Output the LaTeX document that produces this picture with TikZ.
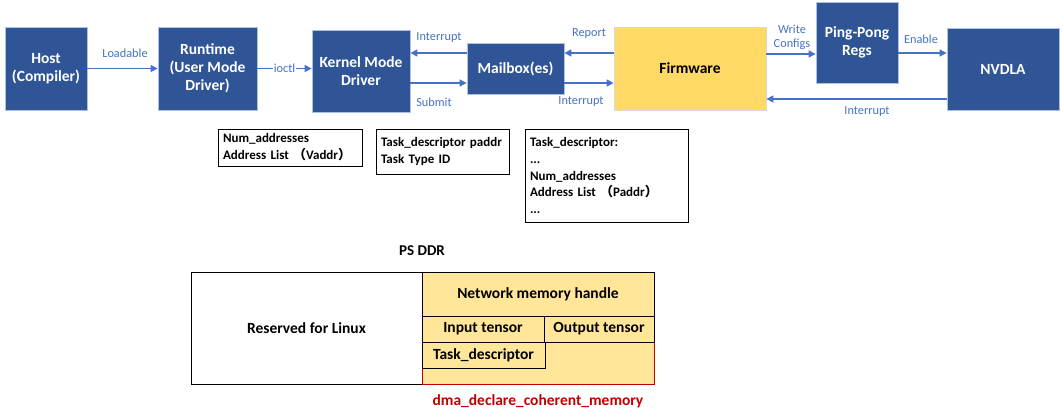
\documentclass[tikz,border=0pt]{standalone}
\usepackage{fontspec}
\setmainfont{Carlito}
\newfontfamily\cjk{Noto Sans CJK SC}
\usepackage{tikz}
\usetikzlibrary{arrows.meta}
\definecolor{boxblue}{HTML}{2F5597}
\definecolor{arrblue}{HTML}{4472C4}
\definecolor{fwyellow}{HTML}{FFD966}
\definecolor{memyellow}{HTML}{FFE699}
\definecolor{dmared}{HTML}{C00000}

\begin{document}
\begin{tikzpicture}[x=1pt,y=-1pt,
        blk/.style={draw=arrblue!45, line width=0.8pt, fill=boxblue, text=white, align=center,
            inner sep=0pt, font=\bfseries\fontsize{15.5}{18}\selectfont},
        arr/.style={draw=arrblue, line width=1.5pt, -{Triangle[length=7pt,width=7pt]}},
        lbl/.style={text=arrblue, inner sep=1pt, align=center, font=\fontsize{12.3}{14}\selectfont},
        info/.style={draw=black, line width=0.7pt, align=left, inner xsep=5pt,
            font=\bfseries\fontsize{13}{16.8}\selectfont},
        cell/.style={draw=black, line width=0.7pt, fill=memyellow, inner sep=0pt,
            font=\bfseries\fontsize{15.5}{17}\selectfont}]
        \useasboundingbox (0,0) rectangle (1063,419);

        % top row
        \node[blk, minimum width=82, minimum height=83] (host) at (46,68.5) {Host\\(Compiler)};
        \node[blk, minimum width=99, minimum height=83] (runtime) at (207.5,68.5) {Runtime\\(User Mode\\Driver)};
        \node[blk, minimum width=98, minimum height=82] (kmd) at (361,71) {Kernel Mode\\Driver};
        \node[blk, minimum width=97, minimum height=51] (mailbox) at (515.5,68.5) {Mailbox(es)};
        \node[blk, minimum width=152, minimum height=83, fill=fwyellow, draw=black!15, text=black] (firmware) at (690,68.5) {Firmware};
        \node[blk, minimum width=82, minimum height=81] (pingpong) at (857,42.5) {Ping-Pong\\Regs};
        \node[blk, minimum width=112, minimum height=82] (nvdla) at (1003,69) {NVDLA};

        \draw[arr] (host.east) -- (runtime.west);
        \node[lbl] (loadable) at (125,53) {Loadable};
        \draw[arr] (runtime.east) -- (runtime.east -| kmd.west) node[lbl, midway, fill=white] (ioctl) {ioctl};
        \draw[arr] ([yshift=15.5pt]mailbox.west) -- ([yshift=18pt]kmd.east);
        \node[lbl] (intkmd) at (439,38) {Interrupt};
        \draw[arr] ([yshift=-12pt]kmd.east) -- ([yshift=-14.5pt]mailbox.west);
        \node[lbl] (submit) at (434,102) {Submit};
        \draw[arr] ([yshift=15.5pt]firmware.west) -- ([yshift=15.5pt]mailbox.east);
        \node[lbl] (report) at (589,34) {Report};
        \draw[arr] ([yshift=-14.5pt]mailbox.east) -- ([yshift=-14.5pt]firmware.west);
        \node[lbl] (intfw) at (581,102) {Interrupt};
        \draw[arr] ([yshift=14.5pt]firmware.east) -- ([yshift=-11.5pt]pingpong.west);
        \node[lbl] (writecfg) at (792,37) {Write\\Configs};
        \draw[arr] ([yshift=-10.5pt]pingpong.east) -- ([yshift=16pt]nvdla.west);
        \node[lbl] (enable) at (921,39) {Enable};
        \draw[arr] ([yshift=-30pt]nvdla.west) -- ([yshift=-30.5pt]firmware.east);
        \node[lbl] (intnv) at (867,112) {Interrupt};

        % info boxes
        \node[info, minimum width=144, minimum height=37, text width=134] (umdinfo) at (290,147.5)
            {Num\_addresses\\Address List {\cjk （}Vaddr{\cjk ）}};
        \node[info, minimum width=133, minimum height=45, text width=123] (kmdinfo) at (442.5,151.5)
            {Task\_descriptor paddr\\Task Type ID};
        \node[info, minimum width=163, minimum height=93, text width=153] (fwinfo) at (606.5,175.5)
            {Task\_descriptor:\\...\\Num\_addresses\\Address List {\cjk （}Paddr{\cjk ）}\\...};

        % PS DDR memory map
        \node[font=\bfseries\fontsize{15}{17}\selectfont] (psddr) at (422,251) {PS DDR};
        \node[draw=black, line width=0.7pt, minimum width=231, minimum height=112, inner sep=0pt,
            font=\bfseries\fontsize{15.5}{17}\selectfont] (linux) at (306.5,328) {Reserved for Linux};
        \node[draw=dmared, line width=0.7pt, fill=memyellow, minimum width=232, minimum height=112] (dma) at (538,328) {};
        \node[cell, minimum width=232, minimum height=44] (netmem) at (538,294) {Network memory handle};
        \node[cell, minimum width=122, minimum height=26] (input) at (483,329) {Input tensor};
        \node[cell, minimum width=110, minimum height=26] (output) at (599,329) {Output tensor};
        \node[cell, minimum width=123, minimum height=26] (taskdesc) at (483.5,355) {Task\_descriptor};
        \node[text=dmared, font=\bfseries\fontsize{15.5}{17}\selectfont] (dmalbl) at (538,401) {dma\_declare\_coherent\_memory};
    \end{tikzpicture}
\end{document}
